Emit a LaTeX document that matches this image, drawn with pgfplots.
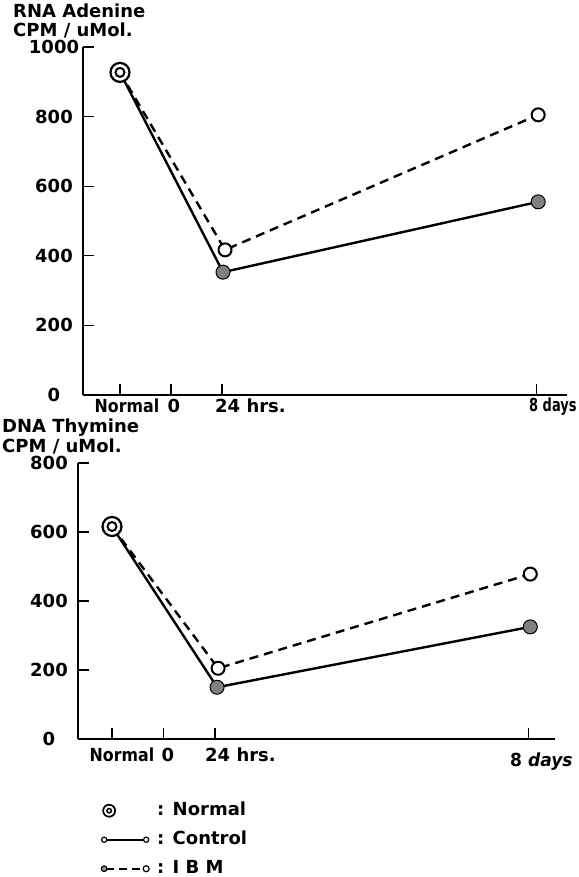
\documentclass[border=0pt]{standalone}
\usepackage{pgfplots}
\pgfplotsset{compat=1.18}
\usepackage{fontspec}
\setmainfont{DejaVu Sans}
\newcommand\lf{\fontsize{18}{21}\selectfont\bfseries}
\pgfplotsset{
  myax/.style={
    scale only axis, enlargelimits=false,
    axis x line*=bottom, axis y line*=left,
    axis line style={line width=2.8pt,-},
    tick align=inside,
    major tick length=11pt,
    tick style={line width=1.3pt, black},
    xticklabels={},
    yticklabel style={anchor=center, xshift=-29pt, font=\lf},
    clip=false,
  },
  ctrl/.style={line width=2.4pt, black, mark=*, mark indices={2,3}, mark size=7pt,
    mark options={solid, fill=black!50, draw=black, line width=1pt}, forget plot},
  ibm/.style={line width=2.4pt, black, dash pattern=on 9pt off 6pt, mark=*, mark indices={2,3}, mark size=6.5pt,
    mark options={solid, fill=white, draw=black, line width=2pt}, forget plot},
  nouter/.style={only marks, mark=*, mark size=9.5pt, mark options={fill=white, draw=black, line width=2.2pt}, forget plot},
  ninner/.style={only marks, mark=*, mark size=4.5pt, mark options={fill=white, draw=black, line width=2pt}, forget plot},
}
\begin{document}
\begin{tikzpicture}
\path[use as bounding box] (0pt,0pt) rectangle (578pt,877pt);

% ---------- top panel: RNA Adenine ----------
\begin{axis}[myax, at={(83pt,482pt)}, anchor=south west,
  width=484pt, height=348pt,
  xmin=-0.725, xmax=8.765, ymin=0, ymax=1000,
  xtick={0,1,2,8.16},
  ytick={0,200,400,600,800,1000},
  yticklabels={0,200,400,600,800,\raisebox{-8pt}{1000}}]
\addplot[ctrl] coordinates {(0,927) (2.02,353) (8.2,555)};
\addplot[ibm] coordinates {(0,927) (2.06,417) (8.2,805)};
\addplot[nouter] coordinates {(0,927)};
\addplot[ninner] coordinates {(0,927)};
\end{axis}

% ---------- bottom panel: DNA Thymine ----------
\begin{axis}[myax, at={(78pt,138pt)}, anchor=south west,
  width=477pt, height=276pt,
  xmin=-0.66, xmax=8.6, ymin=0, ymax=800,
  xtick={0,1,2,8.08},
  ytick={0,200,400,600,800},
  yticklabels={0,200,400,600,800},
  legend style={at={(axis description cs:0.046,-0.232)}, anchor=north west,
    draw=none, fill=none, font=\lf, inner sep=0pt, row sep=14pt,
    nodes={inner sep=0pt, text height=12pt, text depth=3pt}},
  legend cell align=left]
\addplot[ctrl] coordinates {(0,616) (2.04,150) (8.12,325)};
\addplot[ibm] coordinates {(0,616) (2.06,205) (8.12,478)};
\addplot[nouter] coordinates {(0,616)};
\addplot[ninner] coordinates {(0,616)};
\addlegendimage{legend image code/.code={
  \path[draw=none] (0pt,0pt) -- (57pt,0pt);
  \draw[line width=1.7pt, fill=white, solid] (9pt,0pt) circle (6pt);
  \draw[line width=1.5pt, solid] (9pt,0pt) circle (2.2pt);}}
\addlegendentry{: Normal}
\addlegendimage{legend image code/.code={
  \path[draw=none] (0pt,0pt) -- (57pt,0pt);
  \draw[line width=1.8pt, solid] (4pt,0pt) -- (46pt,0pt);
  \draw[line width=1.2pt, fill=white, solid] (4pt,0pt) circle (2.6pt);
  \draw[line width=1.2pt, fill=white, solid] (46pt,0pt) circle (2.6pt);}}
\addlegendentry{: Control}
\addlegendimage{legend image code/.code={
  \path[draw=none] (0pt,0pt) -- (57pt,0pt);
  \draw[line width=1.8pt, dash pattern=on 8pt off 5pt] (6pt,0pt) -- (44pt,0pt);
  \draw[line width=1.2pt, fill=black!40, solid] (4pt,0pt) circle (2.8pt);
  \draw[line width=1.2pt, fill=white, solid] (46pt,0pt) circle (3pt);}}
\addlegendentry{: I B M}
\end{axis}

% ---------- texts ----------
\begin{scope}[every node/.style={font=\lf, inner sep=0pt}]
\node[anchor=north west, align=left, font=\fontsize{18}{18.5}\selectfont\bfseries]
  at (13pt,873pt) {RNA Adenine\\CPM / uMol.};
\node[anchor=base] at (127pt,464pt) {\scalebox{0.88}[1]{Normal}};
\node[anchor=base] at (174pt,464pt) {0};
\node[anchor=base west] at (215pt,464pt) {24 hrs.};
\node[anchor=base west] at (529pt,465pt) {\scalebox{0.72}[1]{8 days}};

\node[anchor=north west, align=left, font=\fontsize{18}{19.5}\selectfont\bfseries]
  at (2pt,458pt) {DNA Thymine\\CPM / uMol.};
\node[anchor=base] at (122pt,115pt) {\scalebox{0.88}[1]{Normal}};
\node[anchor=base] at (168pt,115pt) {0};
\node[anchor=base west] at (205pt,115pt) {24 hrs.};
\node[anchor=base west] at (510pt,110pt) {\scalebox{0.95}[1]{8 \textit{days}}};
\end{scope}
\end{tikzpicture}
\end{document}
